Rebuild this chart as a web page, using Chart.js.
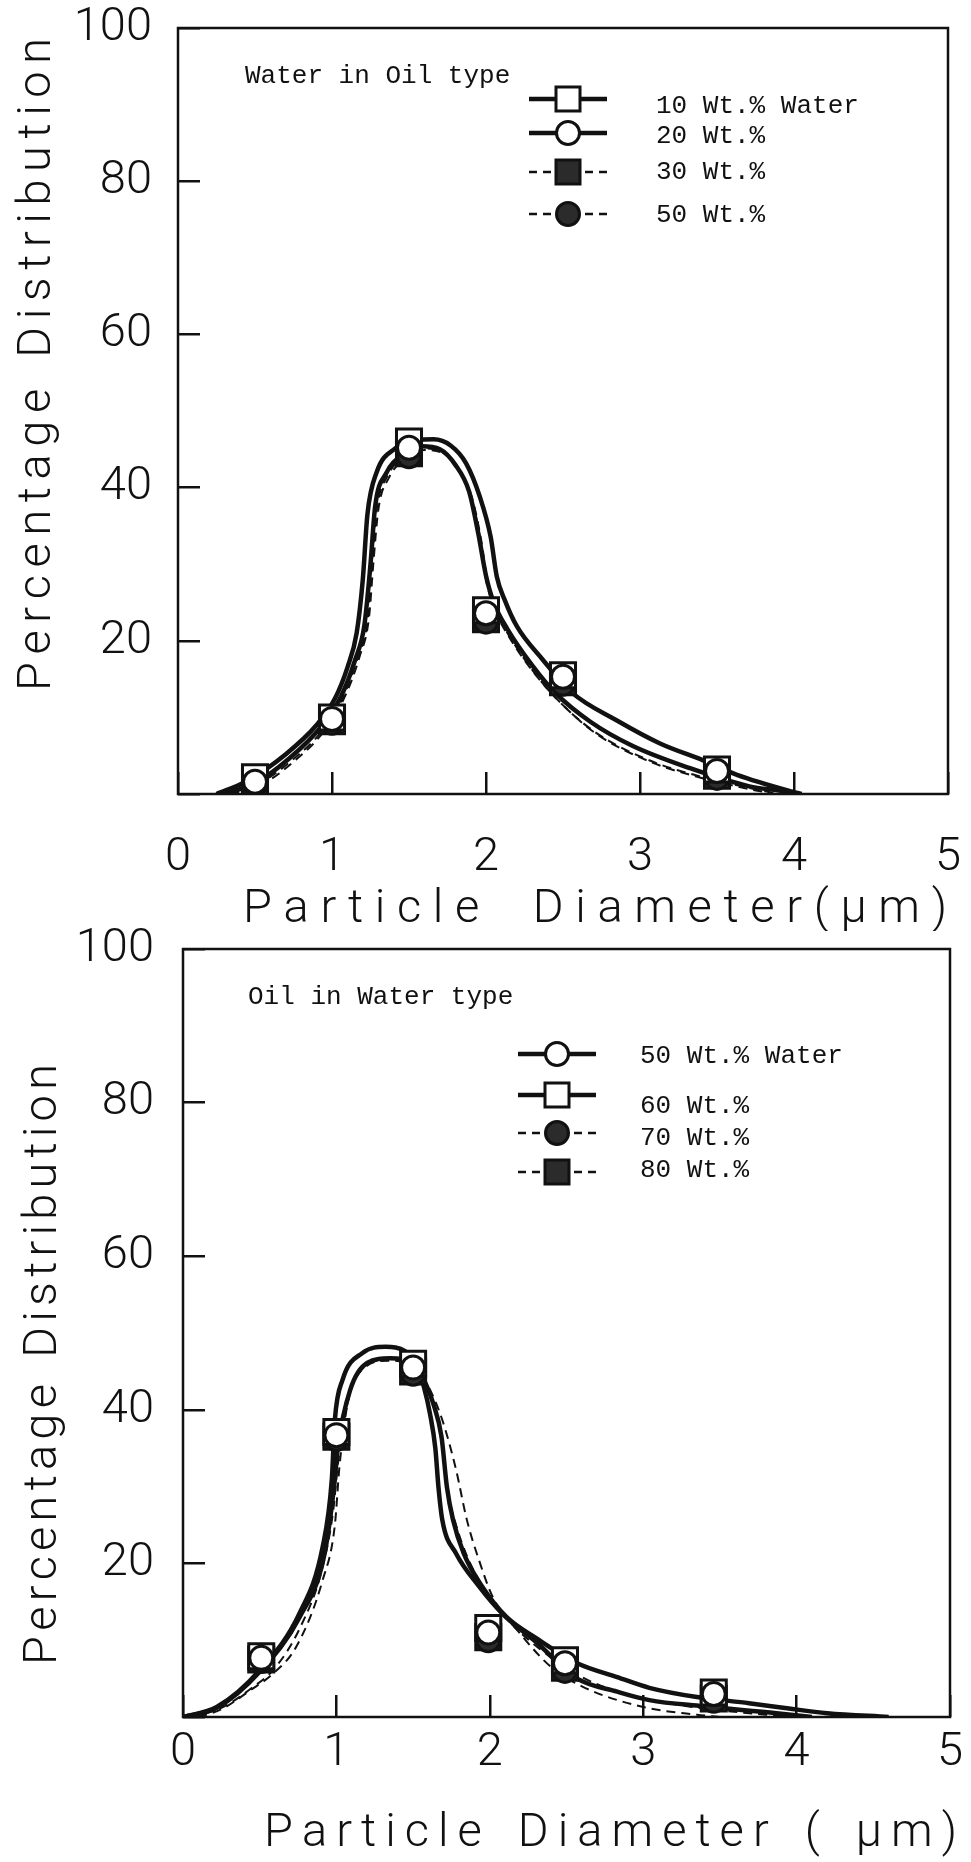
<!DOCTYPE html>
<html>
<head>
<meta charset="utf-8">
<script src="https://cdn.jsdelivr.net/npm/chart.js@4/dist/chart.umd.min.js"></script>
<style>
  html, body { margin: 0; padding: 0; background: #fff; }
  #page { position: relative; width: 971px; height: 1862px; overflow: hidden; background: #fff; }
  #page canvas { position: absolute; left: 0; }
</style>
</head>
<body>
<div id="page">
  <canvas id="woChart" width="971" height="931" style="top:0px"></canvas>
  <canvas id="owChart" width="971" height="962" style="top:900px"></canvas>
</div>
<script>
var xTicks = [0, 1, 2, 3, 4, 5];
var yTicks = [0, 20, 40, 60, 80, 100];

// upper panel: Water in Oil type
var woTitle = 'Water in Oil type';
var woLabels = ['10 Wt.% Water', '20 Wt.%', '30 Wt.%', '50 Wt.%'];
var woX = [0.5, 1.0, 1.5, 2.0, 2.5, 3.5];
var woY10 = [2.2, 10.0, 46.0, 24.0, 15.5, 3.2];
var woY20 = [1.6, 9.8, 45.2, 23.6, 15.3, 3.0];
var woY30 = [1.5, 9.5, 44.5, 22.8, 14.6, 2.4];
var woY50 = [1.2, 9.3, 44.1, 22.5, 14.4, 2.1];
// fitted curves as [diameter, percent]
var woFit10 = [[0.25,0],[0.44,1.6],[0.7,5.2],[0.9,9],[1.02,12.5],[1.1,16.5],[1.16,21],[1.2,28],[1.23,36.5],[1.29,42],[1.41,45.1],[1.55,46.2],[1.66,46.3],[1.77,45.5],[1.87,43.2],[1.96,38.8],[2.03,33.6],[2.07,28.4],[2.12,25.4],[2.2,21.9],[2.37,17.5],[2.56,13.2],[2.85,9.6],[3.13,6.6],[3.41,4.4],[3.63,2.5],[3.99,0.3],[4.05,0]];
var woFit20 = [[0.3,0],[0.5,1.4],[0.72,4.6],[0.93,8.8],[1.06,12.8],[1.15,17.5],[1.21,22],[1.25,30],[1.28,37.5],[1.35,41.8],[1.46,44.3],[1.58,45.4],[1.7,45],[1.8,43],[1.89,39.5],[1.95,34],[2.0,28.5],[2.05,25],[2.14,21.5],[2.3,16.8],[2.45,13.2],[2.68,9.4],[2.95,6.3],[3.32,3.4],[3.71,1.0],[3.97,0.2],[4.0,0]];
var woFit30 = [[0.32,0],[0.52,1.3],[0.74,4.4],[0.95,8.6],[1.08,13],[1.17,18],[1.23,22.5],[1.26,30],[1.29,37],[1.36,41.5],[1.47,44],[1.59,45.1],[1.71,44.7],[1.81,42.7],[1.9,39],[1.96,33.5],[2.0,28],[2.05,24.4],[2.14,21],[2.3,16.2],[2.45,12.6],[2.7,8.2],[3.06,4.4],[3.39,2.3],[3.71,0.8],[3.9,0]];
var woFit50 = [[0.34,0],[0.54,1.2],[0.75,4.2],[0.96,8.5],[1.09,13],[1.18,18],[1.24,23],[1.27,30.5],[1.3,37],[1.37,41.3],[1.48,43.8],[1.6,44.9],[1.72,44.5],[1.82,42.4],[1.91,38.6],[1.97,33],[2.01,27.6],[2.06,24],[2.15,20.5],[2.32,15.6],[2.5,11.6],[2.72,7.8],[3.08,4.1],[3.4,2.1],[3.72,0.6],[3.88,0]];

// lower panel: Oil in Water type
var owTitle = 'Oil in Water type';
var owLabels = ['50 Wt.% Water', '60 Wt.%', '70 Wt.%', '80 Wt.%'];
var owX = [0.51, 1.0, 1.5, 1.99, 2.49, 3.46];
var owY50 = [7.7, 36.7, 45.5, 11.0, 7.0, 3.0];
var owY60 = [7.9, 37.1, 46.0, 11.6, 7.4, 3.2];
var owY70 = [7.3, 36.2, 44.7, 10.0, 6.0, 2.1];
var owY80 = [7.5, 36.5, 45.0, 10.4, 6.4, 2.4];
var owFit50 = [[0,0],[0.22,1.3],[0.5,6.1],[0.76,13.5],[0.91,22.1],[0.97,30.9],[0.99,38.7],[1.04,43.9],[1.17,47.4],[1.32,48.2],[1.45,47.6],[1.52,46],[1.57,43],[1.61,39.5],[1.645,35],[1.665,30],[1.69,25.7],[1.78,21.3],[1.93,17],[2.08,13.5],[2.3,9.8],[2.57,5.0],[2.83,3.3],[3.04,2.2],[3.39,1.4],[3.87,0.5],[4.1,0]];
var owFit60 = [[0,0],[0.22,1.2],[0.5,5.9],[0.76,13],[0.92,21],[0.985,30],[1.01,35.2],[1.09,42.6],[1.2,46.1],[1.35,46.7],[1.5,46],[1.58,43.5],[1.63,40.9],[1.685,36.5],[1.72,30],[1.76,25.7],[1.83,21.3],[1.95,17],[2.11,13],[2.3,10.3],[2.57,7.0],[2.83,5.2],[3.04,3.8],[3.35,2.6],[3.69,1.8],[3.95,1.1],[4.2,0.5],[4.6,0]];
var owFit70 = [[0.1,0],[0.25,1],[0.44,3.5],[0.59,5.7],[0.74,9.2],[0.91,17.8],[0.99,25],[1.02,32.6],[1.08,41.5],[1.2,45.8],[1.35,46.6],[1.5,45.8],[1.6,43],[1.69,38.7],[1.78,32.2],[1.85,25.7],[1.93,20.4],[2.02,15.6],[2.2,10.8],[2.4,6.5],[2.61,3.9],[3.0,1.3],[3.35,0.3],[3.5,0]];
var owFit80 = [[0.05,0],[0.25,1.2],[0.45,3.8],[0.6,6.4],[0.76,11.5],[0.91,19.5],[0.98,27],[1.01,33],[1.08,41.5],[1.19,45.6],[1.34,46.4],[1.5,45.7],[1.59,43],[1.65,39.5],[1.7,34],[1.73,29],[1.78,25],[1.85,21],[1.96,16.8],[2.12,12.6],[2.33,8.8],[2.58,5.4],[2.85,3.2],[3.1,2.0],[3.45,1.0],[3.8,0.3],[4.0,0]];

var INK = '#111';
var NUM_FONT = { family: 'Roboto, "DejaVu Sans", sans-serif', weight: '300', size: 47, lineHeight: 1.2 };
var TITLE_FONT = '300 47px Roboto, "DejaVu Sans", sans-serif';
var KEY_FONT = '26px "Liberation Mono", "DejaVu Sans Mono", monospace';

function pts(xs, ys) {
  return xs.map(function(x, i) { return { x: x, y: ys[i] }; });
}

function fitSet(pairs, dashed) {
  return {
    data: pairs.map(function(p) { return { x: p[0], y: p[1] }; }),
    showLine: true,
    pointRadius: 0,
    pointHoverRadius: 0,
    borderColor: INK,
    borderWidth: dashed ? 2 : 4.5,
    borderDash: dashed ? [9, 6] : [],
    cubicInterpolationMode: 'monotone',
    fill: false,
    order: 10
  };
}

function markSet(xs, ys, style, filled, order) {
  return {
    data: pts(xs, ys),
    showLine: false,
    pointStyle: style,
    pointRadius: style === 'rect' ? 17.7 : 11.5,
    pointHoverRadius: style === 'rect' ? 17.7 : 11.5,
    pointBackgroundColor: filled ? '#2b2b2b' : '#fff',
    pointBorderColor: INK,
    pointBorderWidth: 3,
    order: order
  };
}

function drawMarker(ctx, style, x, y, filled) {
  ctx.beginPath();
  if (style === 'rect') ctx.rect(x - 12, y - 12, 24, 24);
  else ctx.arc(x, y, 11.5, 0, Math.PI * 2);
  ctx.fillStyle = filled ? '#2b2b2b' : '#fff';
  ctx.fill();
  ctx.lineWidth = 3;
  ctx.strokeStyle = INK;
  ctx.stroke();
}

// spreads the glyphs of a title evenly over a given length (baseline at y = 0)
function spacedText(ctx, text, len, spaceW) {
  var widths = [], total = 0, i;
  for (i = 0; i < text.length; i++) {
    var w = text[i] === ' ' ? spaceW : ctx.measureText(text[i]).width;
    widths.push(w);
    total += w;
  }
  var gap = (len - total) / (text.length - 1);
  var x = 0;
  for (i = 0; i < text.length; i++) {
    if (text[i] !== ' ') ctx.fillText(text[i], x, 0);
    x += widths[i] + gap;
  }
}

function decor(cfg) {
  return {
    id: 'decor',
    afterDraw: function(chart) {
      var ctx = chart.ctx, a = chart.chartArea;
      ctx.save();
      ctx.strokeStyle = INK;
      ctx.lineWidth = 2.5;
      ctx.strokeRect(a.left, a.top, a.right - a.left, a.bottom - a.top);

      ctx.fillStyle = INK;
      ctx.font = TITLE_FONT;
      ctx.textBaseline = 'alphabetic';
      ctx.textAlign = 'left';
      var yt = cfg.yTitle;
      ctx.save();
      ctx.translate(yt.base, yt.from);
      ctx.rotate(-Math.PI / 2);
      spacedText(ctx, yt.text, yt.from - yt.to, yt.space);
      ctx.restore();
      var xt = cfg.xTitle;
      ctx.save();
      ctx.translate(xt.from, xt.base);
      spacedText(ctx, xt.text, xt.to - xt.from, xt.space);
      ctx.restore();

      var k = cfg.key;
      ctx.font = KEY_FONT;
      ctx.textBaseline = 'middle';
      ctx.fillText(k.title, k.titleX, k.titleY);
      k.rows.forEach(function(r, i) {
        ctx.save();
        ctx.beginPath();
        ctx.moveTo(k.symX - 39, r.sy);
        ctx.lineTo(k.symX + 39, r.sy);
        ctx.lineWidth = r.dashed ? 2.5 : 4.5;
        ctx.setLineDash(r.dashed ? [8, 6] : []);
        ctx.strokeStyle = INK;
        ctx.stroke();
        ctx.setLineDash([]);
        drawMarker(ctx, r.style, k.symX, r.sy, r.filled);
        ctx.restore();
        ctx.fillStyle = INK;
        ctx.fillText(k.labels[i], k.textX, r.ty);
      });
      ctx.restore();
    }
  };
}

function makeChart(id, datasets, lay, cfg) {
  return new Chart(document.getElementById(id), {
    type: 'scatter',
    data: { datasets: datasets },
    plugins: [decor(cfg)],
    options: {
      responsive: false,
      animation: false,
      events: [],
      layout: { padding: { top: lay.top, right: lay.right, left: 0, bottom: 0 } },
      plugins: { legend: { display: false }, tooltip: { enabled: false } },
      scales: {
        x: {
          type: 'linear', min: 0, max: 5,
          border: { display: false },
          grid: { drawOnChartArea: false, drawTicks: true, tickLength: -22, color: INK, lineWidth: 2.5 },
          ticks: { font: NUM_FONT, color: INK, padding: lay.xPad, maxRotation: 0 },
          afterBuildTicks: function(s) { s.ticks = xTicks.map(function(v) { return { value: v }; }); },
          afterFit: function(s) {
            s.height = lay.height - lay.bottom;
            s.paddingLeft = 0; s.paddingRight = 0; s.paddingTop = 0; s.paddingBottom = 0;
          }
        },
        y: {
          type: 'linear', min: 0, max: 100,
          border: { display: false },
          grid: { drawOnChartArea: false, drawTicks: true, tickLength: -22, color: INK, lineWidth: 2.5 },
          ticks: {
            font: NUM_FONT, color: INK, padding: lay.yPad,
            callback: function(v) { return v === 0 ? '' : String(v); }
          },
          afterBuildTicks: function(s) { s.ticks = yTicks.map(function(v) { return { value: v }; }); },
          afterFit: function(s) {
            s.width = lay.left;
            s.paddingLeft = 0; s.paddingRight = 0; s.paddingTop = 0; s.paddingBottom = 0;
          }
        }
      }
    }
  });
}

makeChart('woChart', [
  markSet(woX, woY20, 'circle', false, 1),
  markSet(woX, woY10, 'rect', false, 2),
  markSet(woX, woY50, 'circle', true, 4),
  markSet(woX, woY30, 'rect', true, 5),
  fitSet(woFit10, false),
  fitSet(woFit20, false),
  fitSet(woFit30, true),
  fitSet(woFit50, true)
], { top: 28, right: 23, left: 178, bottom: 794, height: 931, xPad: 58, yPad: 48 }, {
  yTitle: { text: 'Percentage Distribution', base: 50, from: 691, to: 38, space: 16 },
  xTitle: { text: 'Particle Diameter(\u03bcm)', base: 922, from: 243, to: 947, space: 30 },
  key: {
    title: woTitle, titleX: 245, titleY: 76, symX: 568, textX: 656, labels: woLabels,
    rows: [
      { style: 'rect', filled: false, dashed: false, sy: 99, ty: 106 },
      { style: 'circle', filled: false, dashed: false, sy: 133, ty: 136 },
      { style: 'rect', filled: true, dashed: true, sy: 172, ty: 172 },
      { style: 'circle', filled: true, dashed: true, sy: 214, ty: 215 }
    ]
  }
});

makeChart('owChart', [
  markSet(owX, owY50, 'circle', false, 1),
  markSet(owX, owY60, 'rect', false, 2),
  markSet(owX, owY70, 'circle', true, 4),
  markSet(owX, owY80, 'rect', true, 5),
  fitSet(owFit50, false),
  fitSet(owFit60, false),
  fitSet(owFit70, true),
  fitSet(owFit80, true)
], { top: 49, right: 21, left: 183, bottom: 817, height: 962, xPad: 30, yPad: 51 }, {
  yTitle: { text: 'Percentage Distribution', base: 56, from: 765, to: 164, space: 16 },
  xTitle: { text: 'Particle Diameter ( \u03bcm)', base: 946, from: 264, to: 957, space: 18 },
  key: {
    title: owTitle, titleX: 248, titleY: 97, symX: 557, textX: 640, labels: owLabels,
    rows: [
      { style: 'circle', filled: false, dashed: false, sy: 154, ty: 156 },
      { style: 'rect', filled: false, dashed: false, sy: 195, ty: 206 },
      { style: 'circle', filled: true, dashed: true, sy: 233, ty: 238 },
      { style: 'rect', filled: true, dashed: true, sy: 272, ty: 270 }
    ]
  }
});
</script>
</body>
</html>
